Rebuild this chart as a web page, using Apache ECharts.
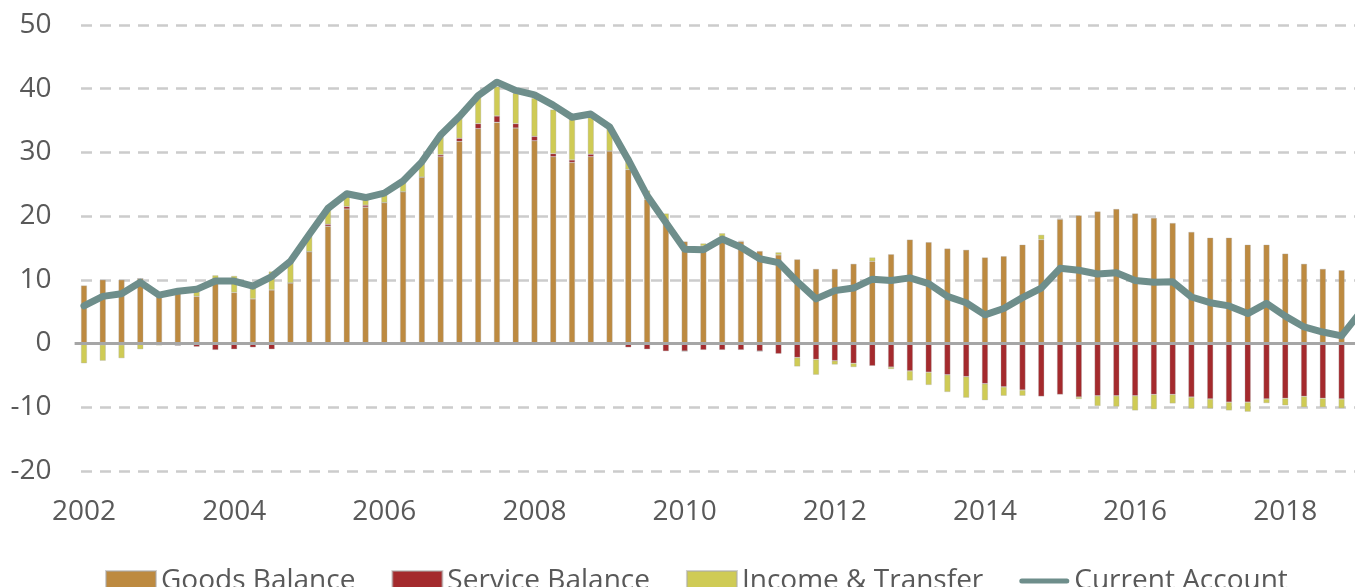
<!DOCTYPE html>
<html lang="en">

<head>
    <meta charset="UTF-8">
    <title>Current account balance</title>
    <style>
        html, body { margin: 0; padding: 0; background: #fff; }
        #main { width: 1355px; height: 587px; }
    </style>
</head>

<body>
    <div id="main"></div>
</body>
<script src="https://cdn.jsdelivr.net/npm/echarts@6/dist/echarts.min.js"></script>
<script>
    // quarters 2002Q1 .. 2019Q1 (the last one is cut by the right edge)
    var quarters = [];
    for (var y = 2002; y <= 2019; y++) {
        for (var q = 1; q <= 4; q++) {
            if (y == 2019 && q > 1) break;
            quarters.push(y + 'Q' + q);
        }
    }

    var goodsBalance = [9.1, 10.0, 10.0, 10.2, 7.9, 8.5, 7.4, 10.0, 8.0, 7.0, 8.4, 9.5,
        14.4, 18.4, 21.1, 21.4, 22.1, 23.8, 26.1, 29.3, 31.7, 33.7, 34.7, 33.8,
        31.8, 29.3, 28.4, 29.3, 30.2, 27.3, 22.6, 19.5, 16.0, 15.3, 16.8, 16.0,
        14.5, 13.9, 13.2, 11.7, 11.7, 12.5, 12.9, 14.0, 16.3, 15.9, 14.9, 14.7,
        13.5, 13.7, 15.5, 16.3, 19.5, 20.1, 20.7, 21.1, 20.4, 19.7, 18.9, 17.5,
        16.6, 16.6, 15.5, 15.5, 14.1, 12.5, 11.7, 11.5, null];
    var serviceBalance = [-0.1, -0.2, -0.2, 0, -0.1, -0.3, -0.5, -1.0, -0.9, -0.6, -0.9, 0,
        0, 0.3, 0.4, 0.3, 0, 0, 0, 0.3, 0.5, 0.8, 1.0, 0.7,
        0.7, 0.5, 0.4, 0.4, 0, -0.6, -0.9, -1.2, -1.2, -1.0, -1.0, -1.0,
        -1.2, -1.6, -2.2, -2.5, -2.7, -3.1, -3.5, -3.7, -4.3, -4.5, -4.9, -5.2,
        -6.3, -6.8, -7.3, -8.3, -8.0, -8.4, -8.2, -8.2, -8.2, -8.0, -8.0, -8.4,
        -8.7, -9.2, -9.2, -8.7, -8.6, -8.3, -8.6, -8.7, null];
    var incomeTransfer = [-3.0, -2.5, -2.1, -0.9, -0.2, 0, 1.5, 0.7, 2.6, 2.6, 2.9, 3.4,
        2.7, 2.4, 1.6, 0.9, 1.3, 1.5, 2.1, 3.1, 3.3, 4.3, 4.6, 4.8,
        6.0, 6.9, 6.4, 5.9, 3.6, 2.0, 1.4, 0.9, 0, 0.4, 0.5, 0.1,
        0, 0.4, -1.4, -2.4, -0.6, -0.6, 0.6, -0.3, -1.5, -2.0, -2.7, -3.3,
        -2.6, -1.4, -0.9, 0.75, 0.1, -0.3, -1.6, -1.7, -2.3, -2.3, -1.4, -1.8,
        -1.5, -1.3, -1.5, -0.65, -1.1, -1.7, -1.4, -1.45, null];
    var currentAccount = [5.9, 7.4, 7.8, 9.6, 7.6, 8.2, 8.5, 9.8, 9.8, 9.0, 10.5, 12.9,
        17.1, 21.2, 23.5, 22.9, 23.6, 25.5, 28.5, 32.7, 35.6, 38.9, 41.0, 39.7,
        39.0, 37.4, 35.5, 36.0, 34.0, 28.8, 23.2, 19.0, 14.8, 14.7, 16.4, 15.1,
        13.3, 12.7, 9.7, 7.0, 8.3, 8.7, 10.1, 9.9, 10.3, 9.4, 7.4, 6.4,
        4.5, 5.5, 7.2, 8.7, 11.8, 11.5, 10.9, 11.1, 9.9, 9.6, 9.7, 7.3,
        6.4, 5.9, 4.7, 6.3, 4.3, 2.6, 1.8, 1.2, 4.9];
    var yTicks = [-20, -10, 0, 10, 20, 30, 40, 50];

    var textColor = '#595959';
    var fontName = '"Open Sans", sans-serif';
    var band = 18.77;
    var barStyle = function (c) {
        return { color: c, borderColor: 'rgba(170,170,170,0.55)', borderWidth: 0.6 };
    };

    var myChart = echarts.init(document.getElementById('main'));

    var option = {
        animation: false,
        grid: {
            left: 74.6,
            top: 24.8,
            width: band * quarters.length,
            height: 446.2,
            containLabel: false,
            outerBoundsMode: 'none'
        },
        legend: {
            left: 100,
            top: 562,
            itemWidth: 50,
            itemHeight: 20,
            itemGap: 36,
            textStyle: { color: textColor, fontSize: 28, fontFamily: fontName },
            data: [
                { name: 'Goods Balance', icon: 'rect' },
                { name: 'Service Balance', icon: 'rect' },
                { name: 'Income & Transfer', icon: 'rect' },
                { name: 'Current Account', icon: 'path://M3,0 L57,0 A3,3 0 0 1 57,6 L3,6 A3,3 0 0 1 3,0 Z' }
            ]
        },
        xAxis: {
            type: 'category',
            data: quarters,
            axisLine: { show: false, onZero: false },
            axisTick: { show: false },
            axisLabel: {
                color: textColor,
                fontSize: 28,
                fontFamily: fontName,
                margin: 27,
                interval: function (idx) { return idx % 8 == 0; },
                formatter: function (v) { return v.substring(0, 4); }
            }
        },
        yAxis: {
            type: 'value',
            min: yTicks[0],
            max: yTicks[yTicks.length - 1],
            interval: 10,
            axisLine: { show: false },
            axisTick: { show: false },
            axisLabel: { color: textColor, fontSize: 28, fontFamily: fontName, margin: 23 },
            splitLine: {
                lineStyle: { color: '#cccccc', width: 2.5, type: [11, 8], dashOffset: 12.6 }
            }
        },
        series: [
            {
                name: 'Goods Balance',
                type: 'bar',
                stack: 'ca',
                barWidth: 6,
                itemStyle: barStyle('#bd8a40'),
                data: goodsBalance
            },
            {
                name: 'Service Balance',
                type: 'bar',
                stack: 'ca',
                barWidth: 6,
                itemStyle: barStyle('#a42a2d'),
                data: serviceBalance
            },
            {
                name: 'Income & Transfer',
                type: 'bar',
                stack: 'ca',
                barWidth: 6,
                itemStyle: barStyle('#cfcb55'),
                data: incomeTransfer
            },
            {
                name: 'Current Account',
                type: 'line',
                symbol: 'none',
                z: 5,
                color: '#6e8e8b',
                lineStyle: { color: '#6e8e8b', width: 7, cap: 'round', join: 'round' },
                data: currentAccount,
                markLine: {
                    silent: true,
                    symbol: 'none',
                    label: { show: false },
                    lineStyle: { color: '#a6a6a6', width: 3, type: 'solid' },
                    data: [{ yAxis: 0 }]
                }
            }
        ]
    };

    myChart.setOption(option);
</script>

</html>
